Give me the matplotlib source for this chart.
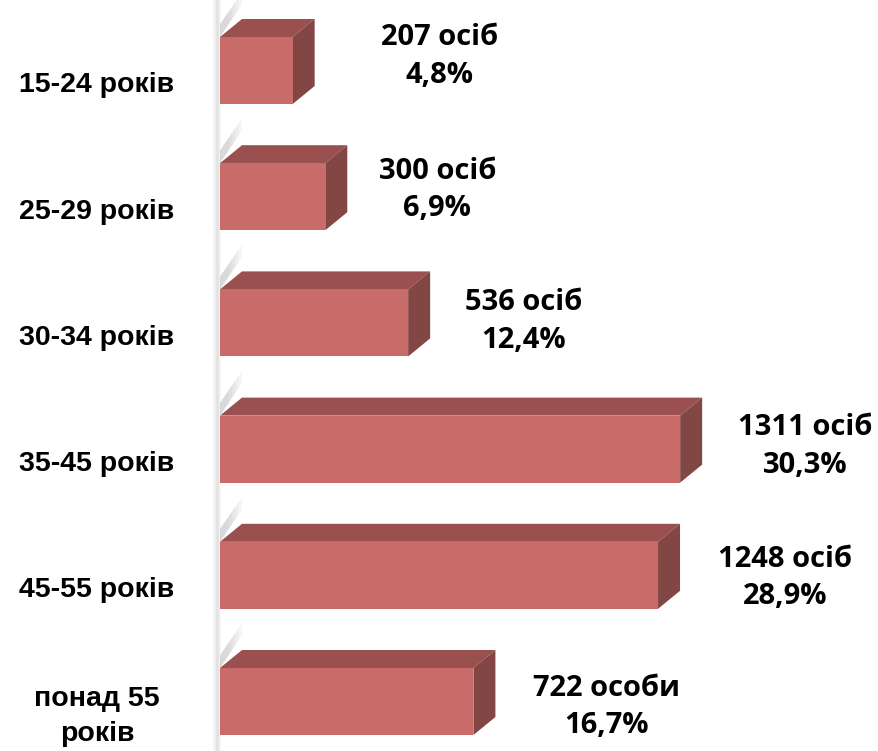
"""
Age structure chart: 3D-style horizontal bars
"""
import matplotlib
matplotlib.use("Agg")
import matplotlib.pyplot as plt
from matplotlib.patches import Polygon

categories = ["15-24 років", "25-29 років", "30-34 років",
              "35-45 років", "45-55 років", "понад 55\nроків"]
counts = [207, 300, 536, 1311, 1248, 722]
percents = [4.8, 6.9, 12.4, 30.3, 28.9, 16.7]
units = ["осіб", "осіб", "осіб", "осіб", "осіб", "особи"]

# layout (pixels)
W, H = 879, 751
x0 = 220          # axis position
px_per_unit = 0.351
slot = 126.2
first_center = 70.5
bar_h = 67 / slot
ddx = 22 / px_per_unit
ddy = 18 / slot
label_dx = [147, 112, 115, 125, 127, 133]
label_dy = [-14, -7, -1.5, -2.5, 2.5, 5.5]

front_color = "#C86B69"
top_color = "#9A504E"
side_color = "#824645"

fig = plt.figure(figsize=(W / 100, H / 100), dpi=100)
ax = fig.add_axes([0, 0, 1, 1])
ax.set_xlim(-x0 / px_per_unit, (W - x0) / px_per_unit)
ax.set_ylim((H - first_center) / slot, -first_center / slot)
ax.axis("off")

ypos = list(range(len(categories)))

# faint shadow wall along the axis
for w, a in [(6, 0.05), (4, 0.07), (2, 0.1)]:
    ax.plot([-2.5 / px_per_unit] * 2, [-1, 6], color="#808080", lw=w, alpha=a,
            solid_capstyle="butt", zorder=1)
for y in ypos:
    top = y - bar_h / 2
    for k in range(5):
        f = 1 - k * 0.15
        ax.add_patch(Polygon([(0, top), (ddx * f, top - ddy * 1.8 * f),
                              (ddx * f, top - ddy * 1.8 * f - 0.1),
                              (0, top - 0.1)],
                             closed=True, color="#8a8a8a", alpha=0.07, lw=0,
                             zorder=1))

ax.barh(ypos, counts, height=bar_h, color=front_color, zorder=3)

for y, v in zip(ypos, counts):
    top = y - bar_h / 2
    bot = y + bar_h / 2
    ax.add_patch(Polygon([(0, top), (v, top), (v + ddx, top - ddy), (ddx, top - ddy)],
                         closed=True, color=top_color, lw=0, zorder=2))
    ax.add_patch(Polygon([(v, top), (v + ddx, top - ddy), (v + ddx, bot - ddy), (v, bot)],
                         closed=True, color=side_color, lw=0, zorder=2))

for y, name in zip(ypos, categories):
    ax.text(-(x0 - 97) / px_per_unit, y + 15 / slot, name, ha="center", va="center",
            fontsize=20.5, fontweight="bold", family="Liberation Sans",
            linespacing=1.45)

for y, v, p, u, dx, dy in zip(ypos, counts, percents, units, label_dx, label_dy):
    txt = f"{v} {u}\n" + f"{p:.1f}%".replace(".", ",")
    ax.text(v + dx / px_per_unit, y + dy / slot, txt, ha="center", va="center",
            fontsize=21, fontweight="bold", family="Open Sans", linespacing=1.38)

fig.savefig("out.png", dpi=100)
